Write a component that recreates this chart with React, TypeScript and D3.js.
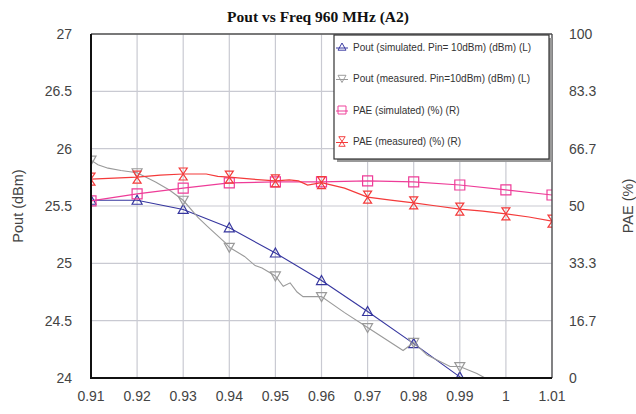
import React from "react";
import * as d3 from "d3";

// ---------- data ----------
const freqTicks = [0.91, 0.92, 0.93, 0.94, 0.95, 0.96, 0.97, 0.98, 0.99, 1.0, 1.01];
const xTickLabels = ["0.91", "0.92", "0.93", "0.94", "0.95", "0.96", "0.97", "0.98", "0.99", "1", "1.01"];
const leftTicks = [24, 24.5, 25, 25.5, 26, 26.5, 27];
const leftTickLabels = ["24", "24.5", "25", "25.5", "26", "26.5", "27"];
const rightTicks = [0, 16.667, 33.333, 50, 66.667, 83.333, 100];
const rightTickLabels = ["0", "16.7", "33.3", "50", "66.7", "83.3", "100"];

// Pout simulated (dBm)
const poutSimFreq = [0.91, 0.92, 0.93, 0.94, 0.95, 0.96, 0.97, 0.98, 0.99, 1.0, 1.01];
const poutSimVal = [25.55, 25.55, 25.47, 25.31, 25.09, 24.85, 24.58, 24.3, 24.01, 23.72, 23.43];

// Pout measured (dBm)
const poutMeasFreq = [
  0.91, 0.9115, 0.9137, 0.9165, 0.92, 0.924, 0.927, 0.93, 0.9332, 0.9353, 0.9391, 0.94,
  0.9433, 0.9456, 0.9471, 0.95, 0.9517, 0.9532, 0.9547, 0.956, 0.96, 0.965, 0.97,
  0.9777, 0.98, 0.9829, 0.9879, 0.99, 0.9937, 0.9955, 1.0,
];
const poutMeasVal = [
  25.9, 25.86, 25.83, 25.81, 25.79, 25.71, 25.64, 25.55, 25.4, 25.32, 25.18, 25.14,
  25.06, 24.98, 24.96, 24.89, 24.8, 24.83, 24.75, 24.71, 24.71, 24.57, 24.44,
  24.24, 24.31, 24.2, 24.1, 24.1, 24.04, 24.0, 23.95,
];

// PAE simulated (%)
const paeSimFreq = [0.91, 0.92, 0.93, 0.94, 0.95, 0.96, 0.97, 0.98, 0.99, 1.0, 1.01];
const paeSimVal = [51.5, 53.5, 55.2, 56.7, 57.0, 57.0, 57.3, 57.0, 56.1, 54.7, 53.2];

// PAE measured (%)
const paeMeasFreq = [
  0.91, 0.915, 0.92, 0.925, 0.93, 0.935, 0.9375, 0.94, 0.945, 0.95, 0.953, 0.955, 0.957,
  0.96, 0.965, 0.97, 0.975, 0.98, 0.985, 0.99, 0.995, 1.0, 1.005, 1.01,
];
const paeMeasVal = [
  57.8, 58.1, 58.4, 59.0, 59.3, 59.3, 58.6, 58.4, 57.8, 57.3, 57.6, 57.3, 56.1,
  56.8, 55.2, 52.6, 51.7, 50.9, 50.0, 49.1, 48.5, 47.7, 46.8, 45.6,
];

const legendItems = [
  "Pout (simulated. Pin= 10dBm) (dBm) (L)",
  "Pout (measured. Pin=10dBm) (dBm) (L)",
  "PAE (simulated) (%) (R)",
  "PAE (measured) (%) (R)",
];

// ---------- layout ----------
const W = 636;
const H = 414;
const L = 91;
const R = 552;
const T = 34;
const B = 378;

const BLUE = "#36369f";
const GRAY = "#9a9a9a";
const PINK = "#ee3c98";
const RED = "#f43a3a";
const FONT = "'Liberation Sans', Arial, sans-serif";

type Pt = [number, number];

function markerPath(kind: string, x: number, y: number): string {
  const s = 5;
  if (kind === "up") return `M${x},${y - s}L${x + s},${y + s - 1}L${x - s},${y + s - 1}Z`;
  if (kind === "down") return `M${x},${y + s}L${x + s},${y - s + 1}L${x - s},${y - s + 1}Z`;
  if (kind === "square") return `M${x - 5},${y - 5}h10v10h-10Z`;
  // hourglass
  return `M${x - 4},${y - 6}h8L${x - 4},${y + 6}h8Z`;
}

export default function App() {
  const x = d3.scaleLinear().domain([0.91, 1.01]).range([L, R]);
  const yL = d3.scaleLinear().domain([24, 27]).range([B, T]);
  const yR = d3.scaleLinear().domain([0, 100]).range([B, T]);

  const mk = (fs: number[], vs: number[]): Pt[] => fs.map((f, i) => [f, vs[i]]);
  const lineL = d3.line<Pt>().x((d) => x(d[0])).y((d) => yL(d[1]));
  const lineR = d3.line<Pt>().x((d) => x(d[0])).y((d) => yR(d[1]));

  const isTick = (f: number) => Math.abs(Math.round(f * 100) - f * 100) < 1e-6;

  const series = [
    { data: mk(poutSimFreq, poutSimVal), line: lineL, y: yL, color: BLUE, marker: "up", w: 1.1 },
    { data: mk(poutMeasFreq, poutMeasVal), line: lineL, y: yL, color: GRAY, marker: "down", w: 1.1 },
    { data: mk(paeSimFreq, paeSimVal), line: lineR, y: yR, color: PINK, marker: "square", w: 1.2 },
    { data: mk(paeMeasFreq, paeMeasVal), line: lineR, y: yR, color: RED, marker: "hour", w: 1.2 },
  ];

  const legX = 334;
  const legY = 35;
  const legW = 215;
  const legH = 124;

  return (
    <svg width={W} height={H} style={{ position: "absolute", left: 0, top: 0, background: "#fff" }}>
      <defs>
        <clipPath id="plotclip">
          <rect x={L} y={T} width={R - L} height={B - T} />
        </clipPath>
      </defs>
      <rect x={0} y={0} width={W} height={H} fill="#fff" />
      {/* title */}
      <text
        x={318}
        y={22}
        textAnchor="middle"
        fontFamily="'Liberation Serif', 'Times New Roman', serif"
        fontWeight="bold"
        fontSize={15.5}
        fill="#111"
      >
        Pout vs Freq 960 MHz (A2)
      </text>
      {/* grid */}
      {freqTicks.map((f, i) => (
        <line key={"gx" + i} x1={x(f)} x2={x(f)} y1={T} y2={B} stroke="#c9cad2" strokeWidth={1.2} />
      ))}
      {leftTicks.map((v, i) => (
        <line key={"gy" + i} x1={L} x2={R} y1={yL(v)} y2={yL(v)} stroke="#c9cad2" strokeWidth={1.2} />
      ))}
      {/* series */}
      <g clipPath="url(#plotclip)">
        {series.map((s, si) => (
          <g key={"s" + si}>
            <path d={s.line(s.data) || ""} fill="none" stroke={s.color} strokeWidth={s.w} />
            {s.data
              .filter((d) => isTick(d[0]))
              .map((d, i) => (
                <path
                  key={i}
                  d={markerPath(s.marker, x(d[0]), s.y(d[1]))}
                  fill="none"
                  stroke={s.color}
                  strokeWidth={1.2}
                />
              ))}
          </g>
        ))}
      </g>
      {/* frame */}
      <line x1={L} x2={R} y1={T} y2={T} stroke="#555" strokeWidth={1.5} />
      <line x1={R} x2={R} y1={T} y2={B} stroke="#444" strokeWidth={1.2} />
      <line x1={L} x2={L} y1={T} y2={B + 1} stroke="#111" strokeWidth={2} />
      <line x1={L} x2={R} y1={B} y2={B} stroke="#111" strokeWidth={2} />
      {/* left ticks */}
      {leftTicks.map((v, i) => (
        <text key={"lt" + i} x={72} y={yL(v)} dy="0.35em" textAnchor="end" fontFamily={FONT} fontSize={14} fill="#444">
          {leftTickLabels[i]}
        </text>
      ))}
      {/* right ticks */}
      {rightTicks.map((v, i) => (
        <text key={"rt" + i} x={569} y={yR(v)} dy="0.35em" textAnchor="start" fontFamily={FONT} fontSize={14} fill="#444">
          {rightTickLabels[i]}
        </text>
      ))}
      {/* x ticks */}
      {freqTicks.map((f, i) => (
        <text key={"xt" + i} x={x(f)} y={396} dy="0.35em" textAnchor="middle" fontFamily={FONT} fontSize={14} fill="#444">
          {xTickLabels[i]}
        </text>
      ))}
      {/* axis titles */}
      <text
        transform={`translate(18,${(T + B) / 2}) rotate(-90)`}
        textAnchor="middle"
        dy="0.35em"
        fontFamily={FONT}
        fontSize={14.5}
        fill="#444"
      >
        Pout (dBm)
      </text>
      <text
        transform={`translate(628,${(T + B) / 2}) rotate(-90)`}
        textAnchor="middle"
        dy="0.35em"
        fontFamily={FONT}
        fontSize={14.5}
        fill="#444"
      >
        PAE (%)
      </text>
      {/* legend */}
      <rect x={legX + 3} y={legY + 3} width={legW} height={legH} fill="#999" />
      <rect x={legX} y={legY} width={legW} height={legH} fill="#fff" stroke="#333" strokeWidth={1.2} />
      {legendItems.map((t, i) => {
        const cy = legY + 12 + i * 31.5;
        const s = series[i];
        return (
          <g key={"lg" + i}>
            <line x1={legX + 2} x2={legX + 14} y1={cy + 1} y2={cy + 1} stroke={s.color} strokeWidth={1} />
            <path d={markerPath(s.marker, legX + 8, cy)} transform={`translate(${legX + 8},${cy}) scale(0.8) translate(${-(legX + 8)},${-cy})`} fill="none" stroke={s.color} strokeWidth={1.2} />
            <text x={legX + 19} y={cy} dy="0.35em" fontFamily={FONT} fontSize={10} fill="#333">
              {t}
            </text>
          </g>
        );
      })}
    </svg>
  );
}
